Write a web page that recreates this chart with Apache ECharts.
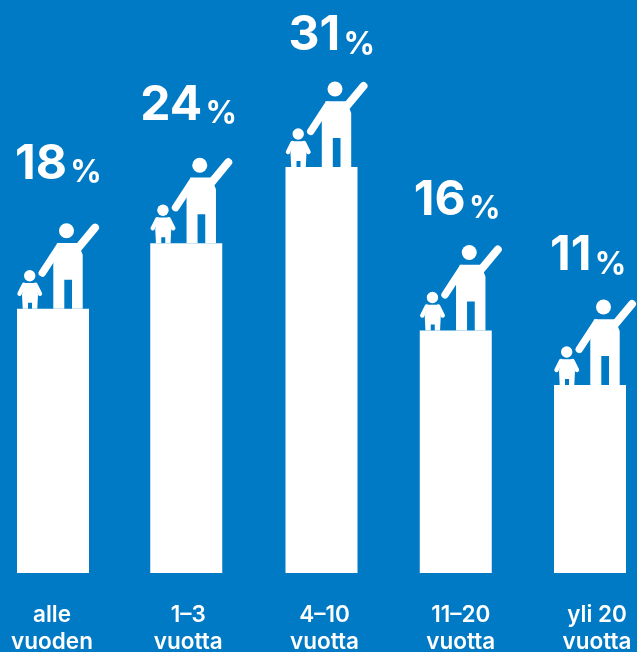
<!DOCTYPE html>
<html><head><meta charset="utf-8">
<style>html,body{margin:0;padding:0;background:#007ac4}#c{width:637px;height:652px}</style>
<script src="https://cdn.jsdelivr.net/npm/echarts@6/dist/echarts.min.js"></script>
</head><body><div id="c"></div>
<script>
var categories = ['alle\nvuoden', '1–3\nvuotta', '4–10\nvuotta', '11–20\nvuotta', 'yli 20\nvuotta'];
var values = [18, 24, 31, 16, 11];
var axisMin = -6.25, axisMax = 46.32;
var barDx = [0, -1, 0, 0, 0];
var labelDx = [-38, -47, -33, -42, -40];
var labelDy = [-144, -138, -131, -130, -129];
var BG = '#007ac4', FG = '#ffffff', FONT = 'Inter, Lato, "Noto Sans", sans-serif';
var barW = 72;

function figure(x, y) {
  var f = {fill: FG};
  var sl = {stroke: FG, fill: null, lineCap: 'round', lineJoin: 'round'};
  function P(a) { return a.map(function (p) { return [x + p[0], y + p[1]]; }); }
  return [
    {type: 'circle', shape: {cx: x + 49.5, cy: y - 78, r: 7.5}, style: f},
    {type: 'polygon', shape: {points: P([[40, -65.7], [61, -65.7], [65.7, -54], [65.7, 0], [55, 0], [55, -29], [47.3, -29], [47.3, 0], [36.3, 0], [36.3, -47]])}, style: f},
    {type: 'polyline', shape: {points: P([[60.3, -59.7], [78, -81]])}, style: Object.assign({lineWidth: 8}, sl)},
    {type: 'polyline', shape: {points: P([[42.3, -61.7], [25.3, -35.7]])}, style: Object.assign({lineWidth: 7.5}, sl)},
    {type: 'circle', shape: {cx: x + 12.7, cy: y - 33, r: 5.7}, style: f},
    {type: 'polygon', shape: {points: P([[7.5, -25.7], [18, -25.7], [21, -14], [20.3, 0], [15, 0], [15, -6], [11, -6], [11, 0], [5.7, 0], [5, -14]])}, style: f},
    {type: 'polyline', shape: {points: P([[7, -24], [2.5, -15]])}, style: Object.assign({lineWidth: 4.4}, sl)},
    {type: 'polyline', shape: {points: P([[18.5, -24], [23, -15]])}, style: Object.assign({lineWidth: 4.4}, sl)}
  ];
}

var chart = echarts.init(document.getElementById('c'), null, {renderer: 'canvas'});
chart.setOption({
  animation: false,
  backgroundColor: BG,
  grid: [
    {left: 53, top: 0, width: 537, height: 573, outerBoundsMode: 'none'},
    {left: 52, top: 0, width: 545, height: 573, outerBoundsMode: 'none'}
  ],
  xAxis: [
    {type: 'category', gridIndex: 0, data: categories, boundaryGap: false, show: false},
    {type: 'category', gridIndex: 1, data: categories, boundaryGap: false,
      axisLine: {show: false}, axisTick: {show: false},
      axisLabel: {interval: 0, color: FG, fontFamily: FONT, fontSize: 22.5, fontWeight: 600, lineHeight: 27, margin: 29, hideOverlap: false}}
  ],
  yAxis: [
    {type: 'value', gridIndex: 0, min: axisMin, max: axisMax, show: false},
    {type: 'value', gridIndex: 1, min: axisMin, max: axisMax, show: false}
  ],
  series: [{
    type: 'custom',
    xAxisIndex: 0, yAxisIndex: 0,
    data: values.map(function (v, i) { return [i, v]; }),
    encode: {x: 0, y: 1},
    renderItem: function (params, api) {
      var i = api.value(0), v = api.value(1);
      var top = api.coord([i, v]), base = api.coord([i, axisMin]);
      var left = top[0] - barW / 2 + barDx[i];
      var kids = [{type: 'rect', shape: {x: left, y: top[1], width: barW, height: base[1] - top[1]}, style: {fill: FG}}];
      kids = kids.concat(figure(left, top[1]));
      kids.push({type: 'text', x: top[0] + labelDx[i], y: top[1] + labelDy[i], style: {
        text: '{n|' + v + '} {p|%}',
        rich: {
          n: {fontFamily: FONT, fontSize: 48, fontWeight: 700, fill: FG, color: FG},
          p: {fontFamily: FONT, fontSize: 31, fontWeight: 700, fill: FG, color: FG, verticalAlign: 'bottom'}
        },
        align: 'left', verticalAlign: 'middle'
      }});
      return {type: 'group', children: kids};
    }
  }]
});
</script></body></html>
